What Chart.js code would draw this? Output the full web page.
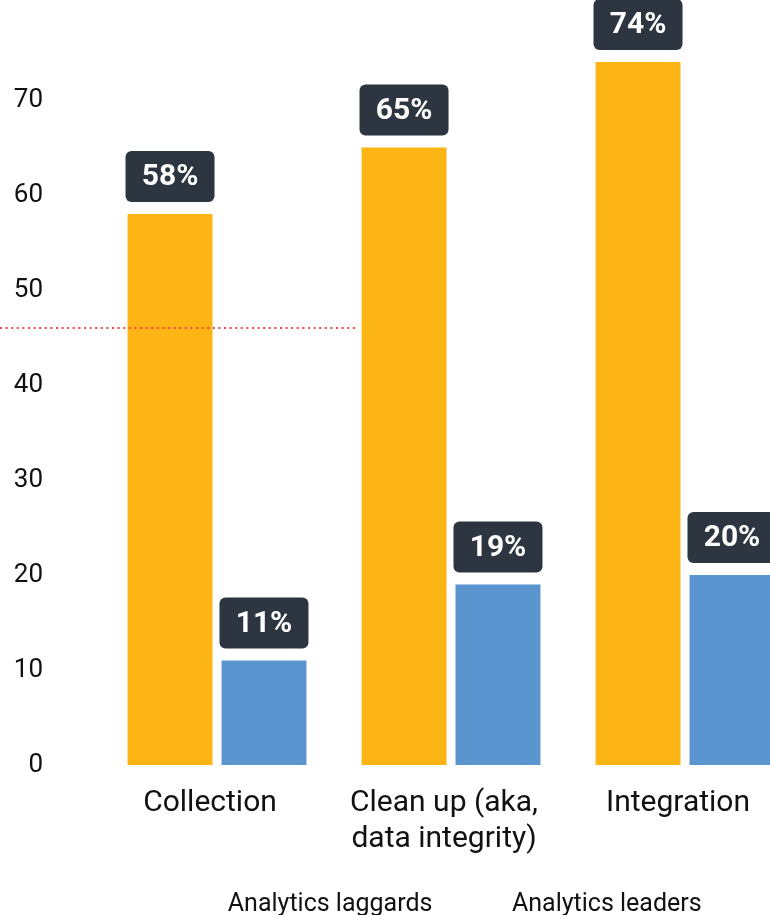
<!DOCTYPE html>
<html>
<head>
<meta charset="utf-8">
<script src="https://cdn.jsdelivr.net/npm/chart.js@4.4.0/dist/chart.umd.min.js"></script>
<style>
  html,body{margin:0;padding:0;background:#fff;overflow:hidden;width:770px;height:915px;}
  #wrap{position:absolute;left:0;top:0;width:956px;height:927px;}
</style>
</head>
<body>
<div id="wrap"><canvas id="c" width="956" height="927"></canvas></div>
<script>
const categories = [["Collection"], ["Clean up (aka,", "data integrity)"], ["Integration"]];
const seriesNames = ["Analytics laggards", "Analytics leaders"];
const laggards = [58, 65, 74];
const leaders = [11, 19, 20];
const yTicks = [0, 10, 20, 30, 40, 50, 60, 70];
const refLineValue = 46;
const refLineEndIndex = 0.59;

const FONT = "Roboto, 'Noto Sans', sans-serif";

const labelBoxes = {
  id: 'labelBoxes',
  afterLayout(chart) {
    // shift the legend box so its items sit where the original's did
    chart.legend.left = 75;
  },
  afterDatasetsDraw(chart) {
    const ctx = chart.ctx;
    const y = chart.scales.y.getPixelForValue(refLineValue);
    const xEnd = chart.scales.x.getPixelForValue(refLineEndIndex);
    ctx.save();
    ctx.strokeStyle = '#EE4A44';
    ctx.lineWidth = 2.2;
    ctx.setLineDash([2, 3.6]);
    ctx.beginPath();
    ctx.moveTo(0, y);
    ctx.lineTo(xEnd, y);
    ctx.stroke();
    ctx.restore();

    chart.data.datasets.forEach((ds, di) => {
      const meta = chart.getDatasetMeta(di);
      meta.data.forEach((bar, i) => {
        const w = 89, h = 51;
        const x0 = bar.x - w / 2;
        const y1 = bar.y - 12;
        const y0 = y1 - h;
        ctx.save();
        ctx.fillStyle = '#2D3540';
        ctx.beginPath();
        ctx.roundRect(x0, y0, w, h, 6);
        ctx.fill();
        ctx.fillStyle = '#ffffff';
        ctx.font = 'bold 30px ' + FONT;
        ctx.textAlign = 'center';
        ctx.textBaseline = 'middle';
        ctx.fillText(ds.data[i] + '%', bar.x, (y0 + y1) / 2 + 1);
        ctx.restore();
      });
    });
  }
};

new Chart(document.getElementById('c'), {
  type: 'bar',
  data: {
    labels: categories,
    datasets: [
      { label: seriesNames[0], data: laggards, backgroundColor: '#FDB515', borderWidth: 0 },
      { label: seriesNames[1], data: leaders, backgroundColor: '#5B95CF', borderWidth: 0 }
    ]
  },
  options: {
    responsive: false,
    animation: false,
    devicePixelRatio: 1,
    layout: { padding: { top: 24, right: 154, left: 0, bottom: 0 } },
    datasets: { bar: { categoryPercentage: 0.803, barPercentage: 0.904 } },
    scales: {
      x: {
        grid: { display: false, drawTicks: false },
        border: { display: false },
        ticks: { color: '#111', font: { family: FONT, size: 30 }, padding: 20, maxRotation: 0, labelOffset: -7 },
        afterFit(scale) { scale.height = 100; scale.paddingLeft = 0; scale.paddingRight = 0; }
      },
      y: {
        min: 0, max: 78,
        grid: { display: false, drawTicks: false },
        border: { display: false },
        afterBuildTicks(scale) { scale.ticks = yTicks.map(v => ({ value: v })); },
        ticks: { color: '#111', font: { family: FONT, size: 26 }, padding: 57 },
        afterFit(scale) { scale.width = 100; scale.paddingTop = 0; scale.paddingBottom = 0; }
      }
    },
    plugins: {
      legend: {
        position: 'bottom',
        labels: {
          color: '#111',
          font: { family: FONT, size: 25 },
          boxWidth: 40,
          padding: 27,
          generateLabels(chart) {
            return chart.data.datasets.map((ds, i) => ({
              text: ds.label, fillStyle: 'rgba(0,0,0,0)', strokeStyle: 'rgba(0,0,0,0)', lineWidth: 0, datasetIndex: i, fontColor: '#111'
            }));
          }
        }
      },
      tooltip: { enabled: false }
    }
  },
  plugins: [labelBoxes]
});
</script>
</body>
</html>
